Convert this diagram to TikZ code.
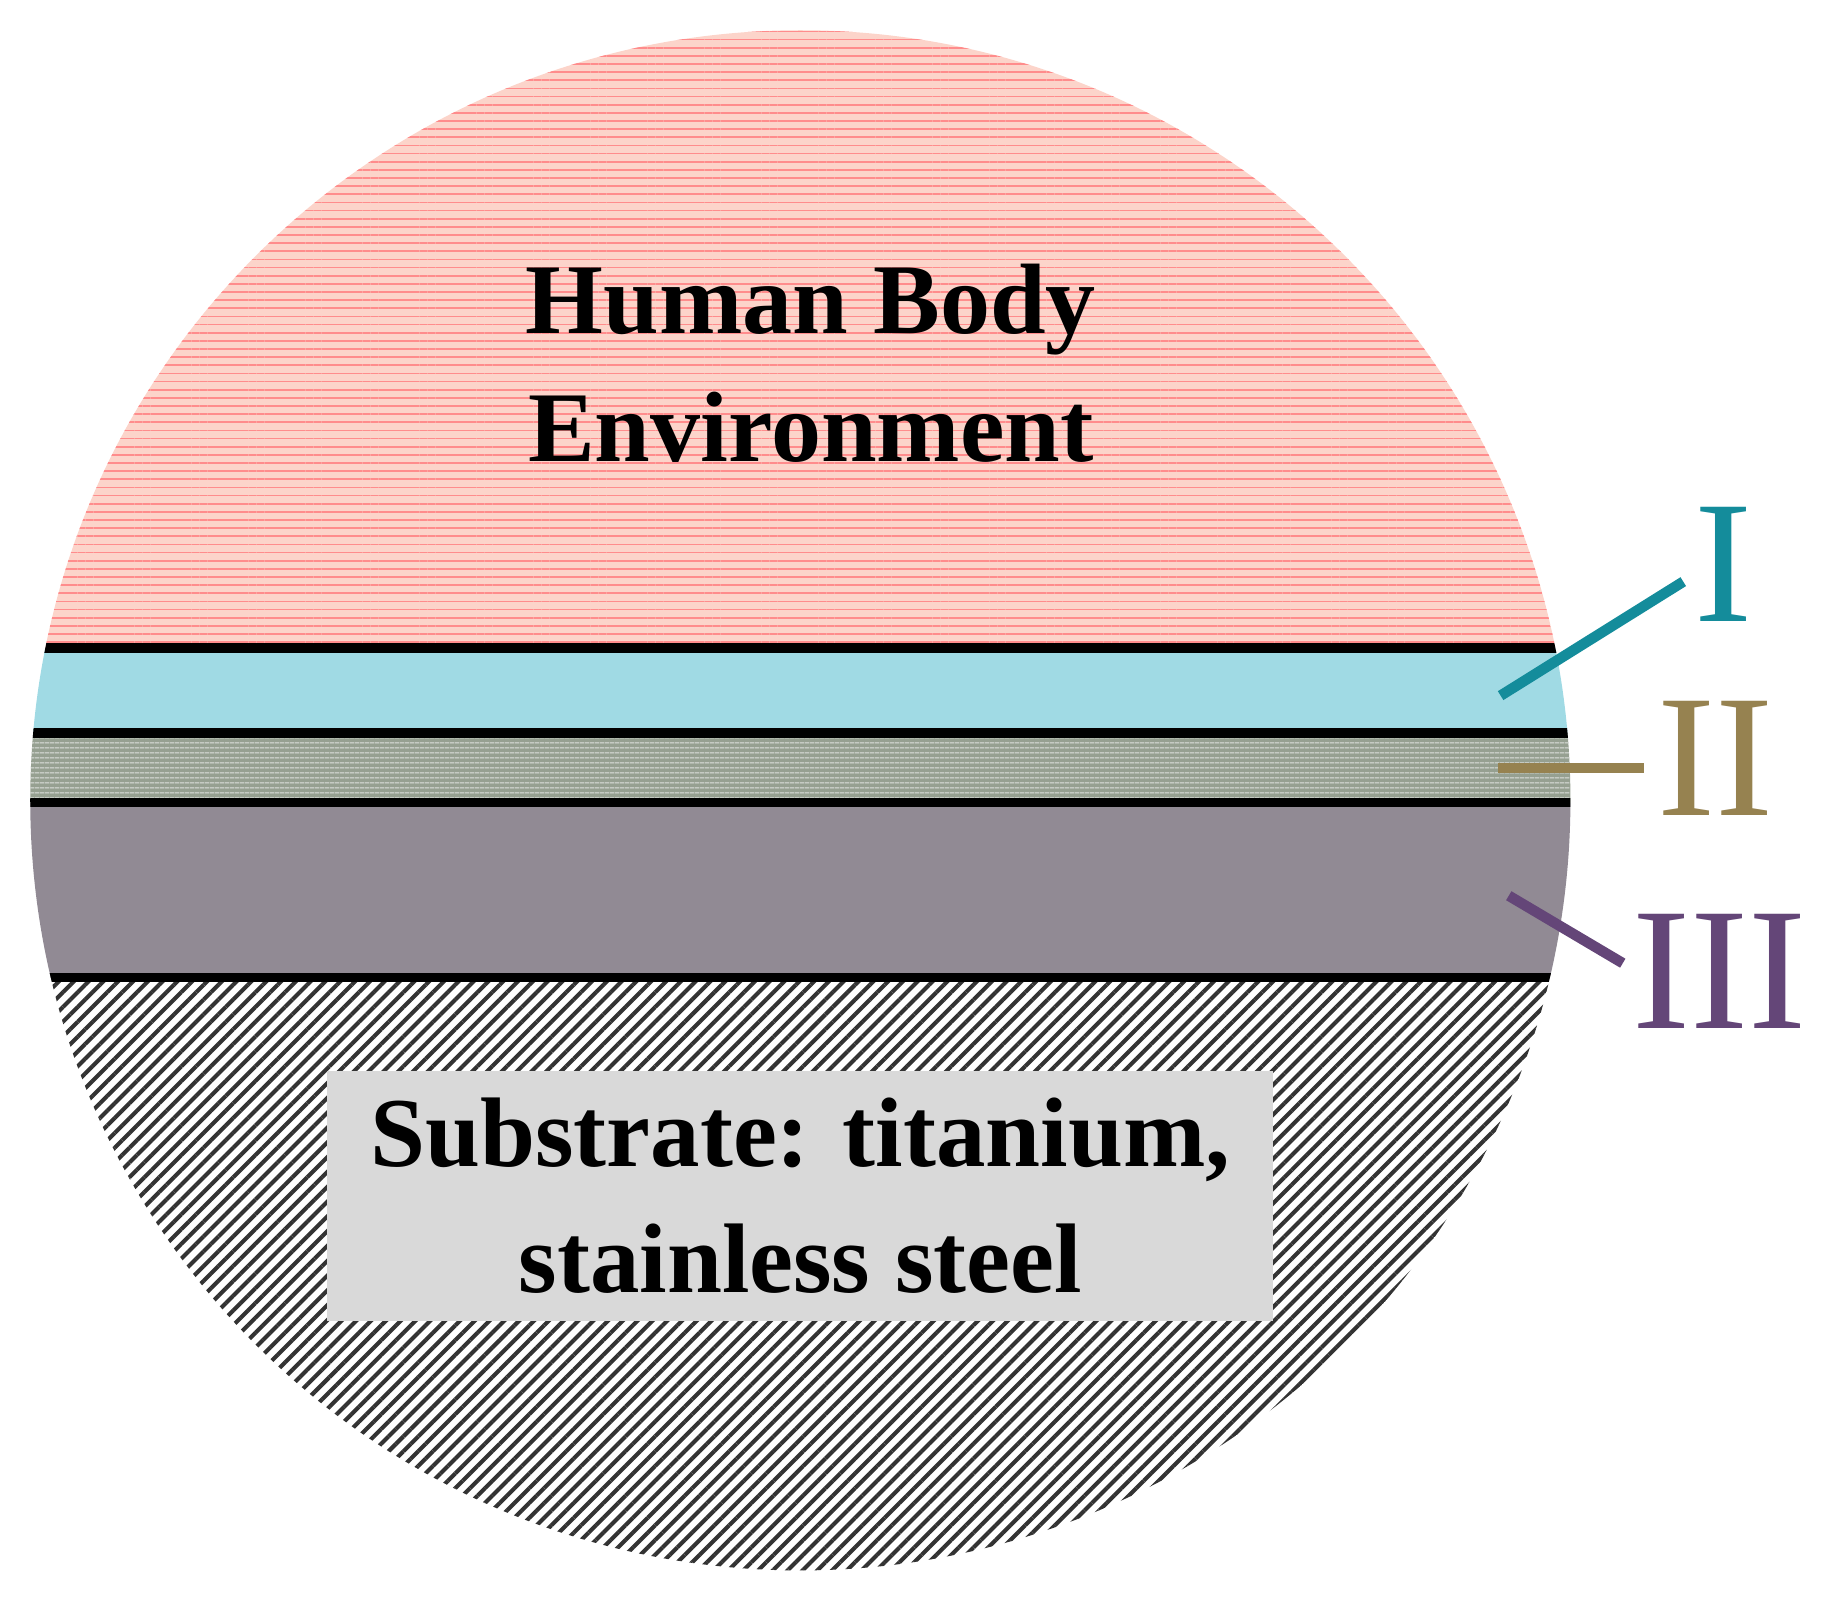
\documentclass[tikz,border=0pt]{standalone}
\usepackage{fontspec}
\setmainfont{Liberation Serif}
\usetikzlibrary{patterns.meta}
\definecolor{pinkbg}{RGB}{252,212,202}
\definecolor{cyanb}{RGB}{160,218,228}
\definecolor{greenb}{RGB}{150,160,145}
\definecolor{purpb}{RGB}{145,138,148}
\definecolor{tealc}{RGB}{20,140,155}
\definecolor{olivec}{RGB}{150,130,80}
\definecolor{purpc}{RGB}{100,70,120}
\tikzset{sep/.style={line width=8pt,black},lead/.style={line width=9pt},lab/.style={font=\fontsize{150}{160}\selectfont}}
\begin{document}
\begin{tikzpicture}[x=1pt,y=-1pt]
\useasboundingbox (0,0) rectangle (1568,1378);
\begin{scope}
\clip (688,688) circle (662);
\fill[pinkbg] (0,0) rectangle (1568,557);
\fill[pattern={Lines[angle=0,distance=7pt,line width=1.5pt]},pattern color=red!45] (0,0) rectangle (1568,557);
\fill[cyanb] (0,557) rectangle (1568,630);
\fill[greenb] (0,630) rectangle (1568,690);
\fill[pattern={Lines[angle=0,distance=4pt,line width=1pt]},pattern color=white!70!greenb] (0,630) rectangle (1568,690);
\fill[purpb] (0,690) rectangle (1568,840);
\fill[white] (0,840) rectangle (1568,1378);
\fill[pattern={Lines[angle=45,distance=9pt,line width=3.5pt]},pattern color=black!80] (0,840) rectangle (1568,1378);
\draw[sep] (0,557) -- (1568,557);
\draw[sep] (0,630) -- (1568,630);
\draw[sep] (0,690) -- (1568,690);
\draw[sep] (0,840) -- (1568,840);
\end{scope}
\node[font=\bfseries\fontsize{86}{110}\selectfont,align=center] (hb) at (697,312) {Human Body\\Environment};
\node[fill=black!15,minimum width=813pt,minimum height=215pt,font=\bfseries\fontsize{85}{108}\selectfont,align=center] (sub) at (688,1028) {Substrate: titanium,\\stainless steel};
\coordinate (a1) at (1290,598); \coordinate (a2) at (1447,500);
\draw[lead,tealc] (a1) -- (a2);
\node[lab,text=tealc] (l1) at (1482,485) {I};
\coordinate (b1) at (1288,660); \coordinate (b2) at (1413,660);
\draw[lead,olivec] (b1) -- (b2);
\node[lab,text=olivec] (l2) at (1475,652) {II};
\coordinate (c1) at (1297,770); \coordinate (c2) at (1395,828);
\draw[lead,purpc] (c1) -- (c2);
\node[lab,text=purpc] (l3) at (1478,835) {III};
\end{tikzpicture}
\end{document}
